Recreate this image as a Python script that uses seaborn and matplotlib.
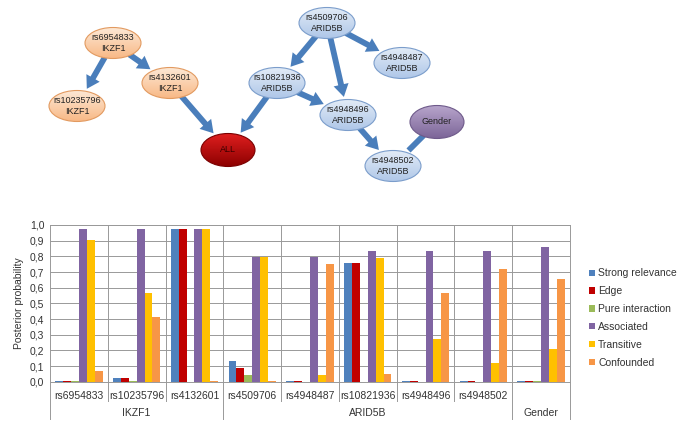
import numpy as np
import pandas as pd
import matplotlib
matplotlib.use('Agg')
import matplotlib.pyplot as plt
from matplotlib.patches import Ellipse, FancyArrowPatch, Patch
from matplotlib.colors import LinearSegmentedColormap
import seaborn as sns

# bar chart data
snps = ['rs6954833', 'rs10235796', 'rs4132601', 'rs4509706', 'rs4948487',
        'rs10821936', 'rs4948496', 'rs4948502', '']
genes = ['IKZF1', 'ARID5B', 'Gender']
gene_spans = [3, 5, 1]
types = ['Strong relevance', 'Edge', 'Pure interaction', 'Associated',
         'Transitive', 'Confounded']
strong = [0.005, 0.025, 0.975, 0.13, 0.003, 0.755, 0.003, 0.003, 0.005]
edge = [0.005, 0.025, 0.975, 0.09, 0.003, 0.755, 0.003, 0.003, 0.005]
pure = [0.002, 0.003, 0.0, 0.04, 0.0, 0.0, 0.0, 0.0, 0.002]
associated = [0.975, 0.975, 0.975, 0.795, 0.795, 0.835, 0.835, 0.835, 0.857]
transitive = [0.905, 0.565, 0.975, 0.795, 0.045, 0.79, 0.274, 0.121, 0.206]
confounded = [0.07, 0.41, 0.003, 0.003, 0.751, 0.05, 0.566, 0.719, 0.657]
colors = ['#4F81BD', '#C00000', '#9BBB59', '#8064A2', '#FFC000', '#F79646']

# network data
nodes = {
    'rs6954833': ('rs6954833\nIKZF1', 'orange'),
    'rs10235796': ('rs10235796\nIKZF1', 'orange'),
    'rs4132601': ('rs4132601\nIKZF1', 'orange'),
    'ALL': ('ALL', 'red'),
    'rs10821936': ('rs10821936\nARID5B', 'blue'),
    'rs4509706': ('rs4509706\nARID5B', 'blue'),
    'rs4948487': ('rs4948487\nARID5B', 'blue'),
    'rs4948496': ('rs4948496\nARID5B', 'blue'),
    'rs4948502': ('rs4948502\nARID5B', 'blue'),
    'Gender': ('Gender', 'purple'),
}
edges = [('rs6954833', 'rs10235796'), ('rs6954833', 'rs4132601'),
         ('rs4132601', 'ALL'), ('rs10821936', 'ALL'),
         ('rs4509706', 'rs10821936'), ('rs4509706', 'rs4948487'),
         ('rs4509706', 'rs4948496'), ('rs10821936', 'rs4948496'),
         ('rs4948496', 'rs4948502')]
undirected = [('Gender', 'rs4948502')]

# layout (pixel positions in the top panel)
pos = {'rs6954833': (113, 43), 'rs10235796': (77, 106), 'rs4132601': (170, 83),
       'ALL': (228, 150), 'rs10821936': (277, 83), 'rs4509706': (327, 23),
       'rs4948487': (402, 63), 'rs4948496': (348, 115), 'rs4948502': (393, 166),
       'Gender': (437, 122)}
fills = {'orange': ('#FDE9D6', '#F8B987', '#E29A60'),
         'blue': ('#E3ECF7', '#AFC7E8', '#7B9DCB'),
         'red': ('#E02020', '#8E0000', '#7A0000'),
         'purple': ('#B8A6CC', '#7D6699', '#6E5A8A')}
rx, ry = 28, 15.5

plt.rcParams['font.family'] = ['Liberation Sans', 'DejaVu Sans']
fig = plt.figure(figsize=(6.85, 4.33), dpi=100)

# ---- network panel ----
net = fig.add_axes([0, 233 / 433, 1, 200 / 433])
net.set_xlim(0, 685)
net.set_ylim(200, 0)
net.axis('off')


def boundary(c, d, sx, sy):
    dx, dy = d
    t = 1 / np.sqrt((dx / sx) ** 2 + (dy / sy) ** 2)
    return c[0] + dx * t, c[1] + dy * t


def node_size(n):
    return (27, 16.5) if n in ('ALL', 'Gender') else (rx, ry)


for a, b in edges + undirected:
    pa, pb = np.array(pos[a]), np.array(pos[b])
    d = pb - pa
    sa = node_size(a)
    sb = node_size(b)
    start = boundary(pa, d, sa[0] * 0.8, sa[1] * 0.8)
    end = boundary(pb, -d, sb[0], sb[1])
    if (a, b) in undirected:
        style = 'simple,head_length=0.01,head_width=4.2,tail_width=4.2'
    else:
        style = 'simple,head_length=9,head_width=11,tail_width=4.2'
    arr = FancyArrowPatch(start, end, arrowstyle=style, mutation_scale=1,
                          color='#4A7EBB', lw=0, zorder=1)
    net.add_patch(arr)

for n, (label, kind) in nodes.items():
    x, y = pos[n]
    w, h = node_size(n)
    top, bot, ec = fills[kind]
    cmap = LinearSegmentedColormap.from_list(kind, [top, bot])
    grad = np.linspace(0, 1, 64).reshape(-1, 1)
    im = net.imshow(grad, cmap=cmap, extent=(x - w, x + w, y + h, y - h),
                    aspect='auto', zorder=2, interpolation='bilinear')
    el = Ellipse((x, y), 2 * w, 2 * h, facecolor='none', edgecolor=ec,
                 lw=0.8, zorder=3)
    net.add_patch(el)
    im.set_clip_path(el)
    tc = '#222222' if kind != 'red' else '#3A0000'
    net.text(x, y, label, ha='center', va='center', fontsize=6.5,
             color=tc, zorder=4, linespacing=1.2)

net.set_xlim(0, 685)
net.set_ylim(200, 0)

# ---- bar chart ----
rows = []
for t, vals in zip(types, [strong, edge, pure, associated, transitive, confounded]):
    for s, v in zip(range(len(snps)), vals):
        rows.append({'snp': s, 'type': t, 'value': v})
df = pd.DataFrame(rows)

ax = fig.add_axes([50 / 685, (433 - 381.7) / 433, 520 / 685, 156.7 / 433])
sns.barplot(data=df, x='snp', y='value', hue='type', hue_order=types,
            palette=colors, width=0.82, saturation=1, ax=ax, legend=False,
            zorder=3)
ax.set_xlim(-0.5, len(snps) - 0.5)
ax.set_ylim(0, 1.0)
ax.set_yticks(np.arange(0, 1.01, 0.1))
ax.set_yticklabels([f'{v:.1f}'.replace('.', ',') for v in np.arange(0, 1.01, 0.1)])
ax.set_xticks(range(len(snps)))
ax.set_xticklabels(snps)
ax.tick_params(axis='both', length=0, labelsize=7.5, colors='#333333', pad=4)
ax.tick_params(axis='x', pad=7)
ax.set_xlabel('')
ax.set_ylabel('Posterior probability', fontsize=7.5, color='#333333', labelpad=4)
ax.yaxis.grid(True, color='#999999', lw=0.7, zorder=0)
for b in np.arange(0.5, len(snps) - 1, 1):
    ax.axvline(b, color='#999999', lw=0.7, zorder=0)
for sp in ax.spines.values():
    sp.set_color('#999999')
    sp.set_linewidth(0.7)

# separators and gene labels below axis
start = 0
for g, span in zip(genes, gene_spans):
    ax.text(start + span / 2 - 0.5, -0.2, g, transform=ax.get_xaxis_transform(),
            ha='center', va='center', fontsize=7.5, color='#333333')
    start += span
bounds = np.cumsum([0] + gene_spans) - 0.5
for b in np.arange(-0.5, len(snps) + 0.5, 1):
    depth = -0.235 if b in bounds else -0.12
    ax.plot([b, b], [0, depth], transform=ax.get_xaxis_transform(),
            color='#999999', lw=0.7, clip_on=False)

handles = [Patch(facecolor=c, label=t) for c, t in zip(colors, types)]
fig.legend(handles=handles, loc='center left', bbox_to_anchor=(580 / 685, 1 - 318 / 433),
           frameon=False, fontsize=7.5, handlelength=0.55, handleheight=0.55,
           handletextpad=0.3, labelspacing=0.75, labelcolor='#333333')

fig.savefig('out.png', dpi=100)
